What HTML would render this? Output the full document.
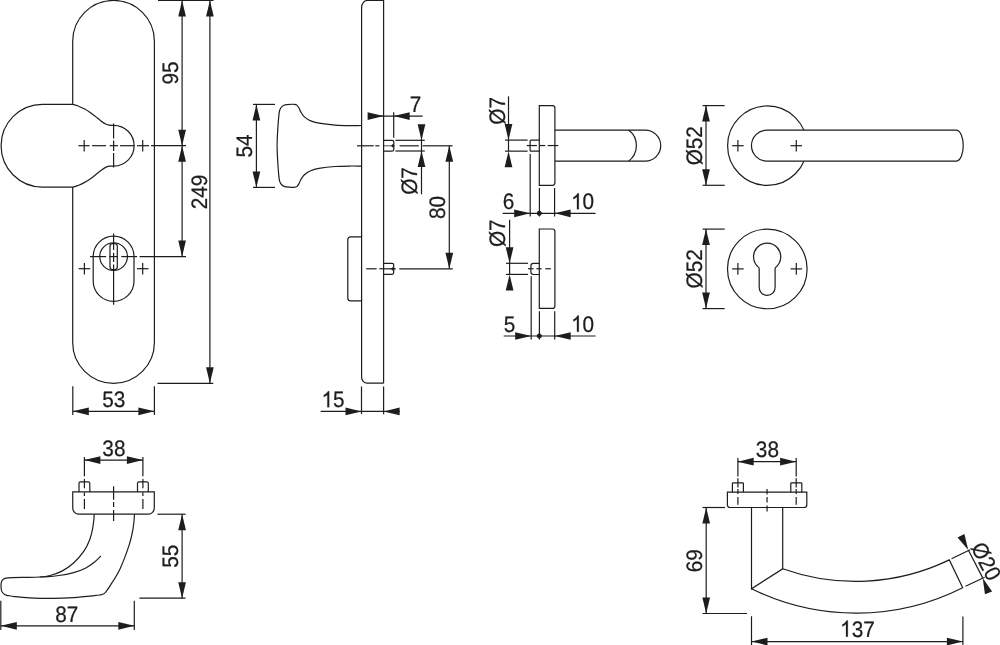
<!DOCTYPE html>
<html><head><meta charset="utf-8"><title>Drawing</title>
<style>
html,body{margin:0;padding:0;background:#fff;}
body{width:1000px;height:645px;overflow:hidden;}
svg{display:block;filter:grayscale(1);}
svg *{stroke:#1d1d1b;}
svg text{font-family:"Liberation Sans",sans-serif;fill:#1d1d1b;stroke:#1d1d1b;stroke-width:0.22px;text-rendering:geometricPrecision;}
svg polygon, svg .nf{stroke:none;}
</style></head><body>
<svg width="1000" height="645" viewBox="0 0 1000 645" fill="none" stroke-linecap="butt">
<path d="M72.7,41.30 A40.85,40.85 0 0 1 154.4,41.30 L154.4,342.45 A40.85,40.85 0 0 1 72.7,342.45 Z" fill="none" stroke-width="1.2"/>
<path d="M72.6,104.3 C74.69,104.51 76.67,105.45 78.60,106.20 C80.53,106.95 82.33,107.80 84.20,108.80 C86.07,109.80 87.95,110.93 89.80,112.20 C91.65,113.47 93.45,114.95 95.30,116.40 C97.15,117.85 99.18,119.63 100.90,120.90 C102.62,122.17 104.20,123.28 105.60,124.00 C107.00,124.72 107.95,124.98 109.30,125.20 C110.65,125.42 112.23,125.30 113.70,125.30 A20.4,20.4 0 0 1 113.7,166.10 C112.23,166.10 110.65,165.98 109.30,166.20 C107.95,166.42 107.00,166.68 105.60,167.40 C104.20,168.12 102.62,169.23 100.90,170.50 C99.18,171.77 97.15,173.55 95.30,175.00 C93.45,176.45 91.65,177.93 89.80,179.20 C87.95,180.47 86.07,181.60 84.20,182.60 C82.33,183.60 80.53,184.45 78.60,185.20 C76.67,185.95 74.69,186.89 72.60,187.10 L42.5,187.1 A41.4,41.4 0 0 1 42.5,104.3 Z" fill="#fff" stroke-width="1.2"/>
<line x1="113.6" y1="123.6" x2="113.6" y2="138.5" stroke-width="1.2"/>
<line x1="113.6" y1="140.5" x2="113.6" y2="151" stroke-width="1.2"/>
<line x1="113.6" y1="153" x2="113.6" y2="167.6" stroke-width="1.2"/>
<line x1="78.4" y1="145.7" x2="89.6" y2="145.7" stroke-width="1.2"/>
<line x1="92.1" y1="145.7" x2="106" y2="145.7" stroke-width="1.2"/>
<line x1="109.6" y1="145.7" x2="118" y2="145.7" stroke-width="1.2"/>
<line x1="120" y1="145.7" x2="134.4" y2="145.7" stroke-width="1.2"/>
<line x1="137" y1="145.7" x2="149" y2="145.7" stroke-width="1.2"/>
<line x1="151" y1="145.7" x2="186" y2="145.7" stroke-width="1.2"/>
<line x1="84.2" y1="139.9" x2="84.2" y2="151.6" stroke-width="1.2"/>
<line x1="142.7" y1="139.9" x2="142.7" y2="151.6" stroke-width="1.2"/>
<path d="M93.2,256.6 A20.4,20.4 0 0 1 134,256.6 L134,281 A20.4,20.4 0 0 1 93.2,281 Z" fill="none" stroke-width="1.2"/>
<circle cx="113.6" cy="256.6" r="13.85" fill="none" stroke-width="1.2"/>
<rect x="110" y="243.7" width="7.3" height="25.9" rx="2.5" fill="#fff" stroke-width="1.2"/>
<line x1="113.6" y1="233.6" x2="113.6" y2="250" stroke-width="1.2"/>
<line x1="113.6" y1="252.8" x2="113.6" y2="262" stroke-width="1.2"/>
<line x1="113.6" y1="264.6" x2="113.6" y2="304.8" stroke-width="1.2"/>
<line x1="90" y1="256.6" x2="106.1" y2="256.6" stroke-width="1.2"/>
<line x1="109.4" y1="256.6" x2="118" y2="256.6" stroke-width="1.2"/>
<line x1="121.3" y1="256.6" x2="137.1" y2="256.6" stroke-width="1.2"/>
<line x1="139.5" y1="256.6" x2="186" y2="256.6" stroke-width="1.2"/>
<line x1="78.60000000000001" y1="268.7" x2="90.2" y2="268.7" stroke-width="1.2"/>
<line x1="84.4" y1="262.9" x2="84.4" y2="274.5" stroke-width="1.2"/>
<line x1="136.89999999999998" y1="268.7" x2="148.5" y2="268.7" stroke-width="1.2"/>
<line x1="142.7" y1="262.9" x2="142.7" y2="274.5" stroke-width="1.2"/>
<line x1="158" y1="0.5" x2="213.5" y2="0.5" stroke-width="1.2"/>
<line x1="182.1" y1="0" x2="182.1" y2="256.6" stroke-width="1.2"/>
<polygon points="182.10,0.50 185.95,16.50 178.25,16.50" fill="#1d1d1b" stroke="none"/>
<polygon points="182.10,145.70 178.25,129.70 185.95,129.70" fill="#1d1d1b" stroke="none"/>
<polygon points="182.10,145.70 185.95,161.70 178.25,161.70" fill="#1d1d1b" stroke="none"/>
<polygon points="182.10,256.60 178.25,240.60 185.95,240.60" fill="#1d1d1b" stroke="none"/>
<line x1="209.9" y1="0" x2="209.9" y2="383.3" stroke-width="1.2"/>
<polygon points="209.90,0.50 213.75,16.50 206.05,16.50" fill="#1d1d1b" stroke="none"/>
<polygon points="209.90,383.30 206.05,367.30 213.75,367.30" fill="#1d1d1b" stroke="none"/>
<line x1="157.5" y1="383.3" x2="213.3" y2="383.3" stroke-width="1.2"/>
<text x="0" y="7.44" font-size="20.75" text-anchor="middle" transform="translate(170 73) rotate(-90) scale(1 1.08)">95</text>
<text x="0" y="7.44" font-size="20.75" text-anchor="middle" transform="translate(198.6 192) rotate(-90) scale(1 1.08)">249</text>
<line x1="72.8" y1="386.3" x2="72.8" y2="414.9" stroke-width="1.2"/>
<line x1="154.4" y1="386.3" x2="154.4" y2="414.9" stroke-width="1.2"/>
<line x1="72.8" y1="411.35" x2="154.4" y2="411.35" stroke-width="1.2"/>
<polygon points="72.80,411.35 88.80,407.50 88.80,415.20" fill="#1d1d1b" stroke="none"/>
<polygon points="154.40,411.35 138.40,415.20 138.40,407.50" fill="#1d1d1b" stroke="none"/>
<text x="0" y="7.44" font-size="20.75" text-anchor="middle" transform="translate(113.7 398.7) rotate(0) scale(1 1.08)">53</text>
<path d="M383.6,383.2 L383.6,0.5 L367.1,0.5 A5.5,7 0 0 0 361.6,7.5 L361.6,377.2 A5.5,6 0 0 0 367.1,383.2 L383.6,383.2" fill="none" stroke-width="1.2"/>
<path d="M361.50,125.50 C358.13,125.50 355.80,125.67 351.40,125.60 C347.00,125.53 340.52,125.50 335.10,125.10 C329.68,124.70 322.97,123.90 318.90,123.20 C314.83,122.50 313.12,121.95 310.70,120.90 C308.28,119.85 306.03,118.37 304.40,116.90 C302.77,115.43 301.80,113.58 300.90,112.10 C300.00,110.62 299.67,109.17 299.00,108.00 C298.33,106.83 297.67,105.72 296.90,105.10 C296.13,104.48 296.17,104.37 294.40,104.30 C292.63,104.23 288.33,104.35 286.30,104.70 C284.27,105.05 283.32,105.43 282.20,106.40 C281.08,107.37 280.22,108.33 279.60,110.50 C278.98,112.67 278.87,115.20 278.50,119.40 C278.13,123.60 277.63,131.30 277.40,135.70 C277.17,140.10 277.10,142.43 277.10,145.80 " fill="none" stroke-width="1.2"/>
<path d="M361.50,166.10 C358.13,166.10 355.80,165.93 351.40,166.00 C347.00,166.07 340.52,166.10 335.10,166.50 C329.68,166.90 322.97,167.70 318.90,168.40 C314.83,169.10 313.12,169.65 310.70,170.70 C308.28,171.75 306.03,173.23 304.40,174.70 C302.77,176.17 301.80,178.02 300.90,179.50 C300.00,180.98 299.67,182.43 299.00,183.60 C298.33,184.77 297.67,185.88 296.90,186.50 C296.13,187.12 296.17,187.23 294.40,187.30 C292.63,187.37 288.33,187.25 286.30,186.90 C284.27,186.55 283.32,186.17 282.20,185.20 C281.08,184.23 280.22,183.27 279.60,181.10 C278.98,178.93 278.87,176.40 278.50,172.20 C278.13,168.00 277.63,160.30 277.40,155.90 C277.17,151.50 277.10,149.17 277.10,145.80 " fill="none" stroke-width="1.2"/>
<path d="M361.6,236.8 L350.7,236.8 Q347.8,236.8 347.8,239.7 L347.8,297.9 Q347.8,300.8 350.7,300.8 L361.6,300.8" fill="none" stroke-width="1.2"/>
<path d="M383.6,140.4 L392.3,140.4 Q393.8,140.4 393.8,141.9 L393.8,149.6 Q393.8,151.1 392.3,151.1 L383.6,151.1" fill="none" stroke-width="1.2"/>
<path d="M383.6,263.4 L392.20000000000005,263.4 Q393.70000000000005,263.4 393.70000000000005,264.9 L393.70000000000005,272.8 Q393.70000000000005,274.3 392.20000000000005,274.3 L383.6,274.3" fill="none" stroke-width="1.2"/>
<circle cx="392.9" cy="145.8" r="1.1" fill="#1d1d1b" stroke="none"/>
<circle cx="392.8" cy="268.9" r="1.1" fill="#1d1d1b" stroke="none"/>
<line x1="357" y1="145.8" x2="373.7" y2="145.8" stroke-width="1.2"/>
<line x1="375.3" y1="145.8" x2="379.4" y2="145.8" stroke-width="1.2"/>
<line x1="383.6" y1="145.8" x2="393" y2="145.8" stroke-width="0.8"/>
<line x1="399.6" y1="145.8" x2="418.8" y2="145.8" stroke-width="1.2"/>
<line x1="422.6" y1="145.8" x2="452.6" y2="145.8" stroke-width="1.2"/>
<line x1="395.4" y1="140.3" x2="424.8" y2="140.3" stroke-width="1.2"/>
<line x1="395.4" y1="151" x2="424.8" y2="151" stroke-width="1.2"/>
<line x1="368.5" y1="116.1" x2="422.7" y2="116.1" stroke-width="1.2"/>
<polygon points="383.60,116.10 367.60,119.95 367.60,112.25" fill="#1d1d1b" stroke="none"/>
<polygon points="393.70,116.10 409.70,112.25 409.70,119.95" fill="#1d1d1b" stroke="none"/>
<line x1="393.7" y1="112.2" x2="393.7" y2="137.7" stroke-width="1.2"/>
<text x="0" y="7.44" font-size="20.75" text-anchor="middle" transform="translate(415.5 103.7) rotate(0) scale(1 1.08)">7</text>
<line x1="421.5" y1="125" x2="421.5" y2="194.3" stroke-width="1.2"/>
<polygon points="421.50,140.30 417.65,124.30 425.35,124.30" fill="#1d1d1b" stroke="none"/>
<polygon points="421.50,151.00 425.35,167.00 417.65,167.00" fill="#1d1d1b" stroke="none"/>
<text x="0" y="7.44" font-size="20.75" text-anchor="middle" transform="translate(409 181) rotate(-90) scale(1 1.08)">Ø7</text>
<line x1="449.3" y1="145.8" x2="449.3" y2="268.8" stroke-width="1.2"/>
<polygon points="449.30,145.80 453.15,161.80 445.45,161.80" fill="#1d1d1b" stroke="none"/>
<polygon points="449.30,268.80 445.45,252.80 453.15,252.80" fill="#1d1d1b" stroke="none"/>
<text x="0" y="7.44" font-size="20.75" text-anchor="middle" transform="translate(437 207.5) rotate(-90) scale(1 1.08)">80</text>
<line x1="366.2" y1="268.8" x2="376.6" y2="268.8" stroke-width="1.2"/>
<line x1="379.3" y1="268.8" x2="395.8" y2="268.8" stroke-width="1.2"/>
<line x1="399.3" y1="268.8" x2="452.8" y2="268.8" stroke-width="1.2"/>
<line x1="361.5" y1="386.5" x2="361.5" y2="414.2" stroke-width="1.2"/>
<line x1="383.6" y1="386.5" x2="383.6" y2="414.2" stroke-width="1.2"/>
<line x1="320.7" y1="411.4" x2="399.8" y2="411.4" stroke-width="1.2"/>
<polygon points="361.50,411.40 345.50,415.25 345.50,407.55" fill="#1d1d1b" stroke="none"/>
<polygon points="383.60,411.40 399.60,407.55 399.60,415.25" fill="#1d1d1b" stroke="none"/>
<g transform="translate(333.0 399.2) rotate(0) scale(1 1.08)"><path d="M763,0 H583 V-1147 Q518,-1085 412.5,-1023 Q307,-961 223,-930 V-1104 Q374,-1175 487,-1276 Q600,-1377 647,-1472 H763 Z" transform="translate(-11.54 7.44) scale(0.01013)" fill="#1d1d1b" style="stroke:#1d1d1b;stroke-width:21.7"/><text x="0.00" y="7.44" font-size="20.75">5</text></g>
<line x1="253" y1="104.4" x2="275" y2="104.4" stroke-width="1.2"/>
<line x1="253" y1="187.4" x2="275" y2="187.4" stroke-width="1.2"/>
<line x1="256.4" y1="104.4" x2="256.4" y2="187.4" stroke-width="1.2"/>
<polygon points="256.40,104.40 260.25,120.40 252.55,120.40" fill="#1d1d1b" stroke="none"/>
<polygon points="256.40,187.40 252.55,171.40 260.25,171.40" fill="#1d1d1b" stroke="none"/>
<text x="0" y="7.44" font-size="20.75" text-anchor="middle" transform="translate(244.3 146) rotate(-90) scale(1 1.08)">54</text>
<path d="M539.3,105.6 L552.4,105.6 Q554.9,105.6 554.9,108.1 L554.9,182.8 Q554.9,185.3 552.4,185.3 L539.3,185.3 Z" fill="none" stroke-width="1.2"/>
<path d="M554.9,130.05 L645.2,130.05 A15.55,15.55 0 0 1 645.2,161.15 L554.9,161.15" fill="none" stroke-width="1.2"/>
<path d="M628.6,130.05 A19.4,19.4 0 0 1 628.6,161.15" fill="none" stroke-width="1.2"/>
<path d="M539.3,140.1 L531,140.1 Q530.1,140.1 530.1,141 L530.1,150.3 Q530.1,151.2 531,151.2 L539.3,151.2" fill="none" stroke-width="1.2"/>
<line x1="526.7" y1="145.55" x2="536.9" y2="145.55" stroke-width="1.2"/>
<line x1="539.7" y1="145.55" x2="545.3" y2="145.55" stroke-width="1.2"/>
<line x1="547.6" y1="145.55" x2="558.3" y2="145.55" stroke-width="1.2"/>
<line x1="505" y1="140.1" x2="527.6" y2="140.1" stroke-width="1.2"/>
<line x1="505" y1="151.15" x2="527.6" y2="151.15" stroke-width="1.2"/>
<line x1="508.5" y1="96.3" x2="508.5" y2="151" stroke-width="1.2"/>
<polygon points="508.50,140.10 504.65,124.10 512.35,124.10" fill="#1d1d1b" stroke="none"/>
<polygon points="508.50,151.15 512.35,167.15 504.65,167.15" fill="#1d1d1b" stroke="none"/>
<text x="0" y="7.44" font-size="20.75" text-anchor="middle" transform="translate(497.4 110.8) rotate(-90) scale(1 1.08)">Ø7</text>
<line x1="502.6" y1="213.3" x2="595.6" y2="213.3" stroke-width="1.2"/>
<line x1="530.2" y1="153.9" x2="530.2" y2="216.6" stroke-width="1.2"/>
<line x1="539.4" y1="188" x2="539.4" y2="216.6" stroke-width="1.2"/>
<line x1="554.6" y1="188" x2="554.6" y2="216.6" stroke-width="1.2"/>
<polygon points="530.20,213.30 514.20,217.15 514.20,209.45" fill="#1d1d1b" stroke="none"/>
<polygon points="554.60,213.30 570.60,209.45 570.60,217.15" fill="#1d1d1b" stroke="none"/>
<circle cx="539.3" cy="213.3" r="2.1" fill="#1d1d1b" stroke="none"/>
<text x="0" y="7.44" font-size="20.75" text-anchor="middle" transform="translate(508.4 201.3) rotate(0) scale(1 1.08)">6</text>
<g transform="translate(582.6 201.3) rotate(0) scale(1 1.08)"><path d="M763,0 H583 V-1147 Q518,-1085 412.5,-1023 Q307,-961 223,-930 V-1104 Q374,-1175 487,-1276 Q600,-1377 647,-1472 H763 Z" transform="translate(-11.54 7.44) scale(0.01013)" fill="#1d1d1b" style="stroke:#1d1d1b;stroke-width:21.7"/><text x="0.00" y="7.44" font-size="20.75">0</text></g>
<path d="M539.3,229 L552.4,229 Q554.9,229 554.9,231.5 L554.9,305.9 Q554.9,308.4 552.4,308.4 L539.3,308.4 Z" fill="none" stroke-width="1.2"/>
<path d="M539.3,263.3 L533.3,263.3 Q530.9,263.3 530.9,265.7 L530.9,272.1 Q530.9,274.5 533.3,274.5 L539.3,274.5" fill="none" stroke-width="1.2"/>
<line x1="528" y1="268.75" x2="533.6" y2="268.75" stroke-width="1.2"/>
<line x1="536.4" y1="268.75" x2="541.6" y2="268.75" stroke-width="1.2"/>
<line x1="545.3" y1="268.75" x2="550.9" y2="268.75" stroke-width="1.2"/>
<line x1="506" y1="263.3" x2="528" y2="263.3" stroke-width="1.2"/>
<line x1="506" y1="274.4" x2="528" y2="274.4" stroke-width="1.2"/>
<line x1="509.6" y1="219.8" x2="509.6" y2="274.4" stroke-width="1.2"/>
<polygon points="509.60,263.30 505.75,247.30 513.45,247.30" fill="#1d1d1b" stroke="none"/>
<polygon points="509.60,274.40 513.45,290.40 505.75,290.40" fill="#1d1d1b" stroke="none"/>
<text x="0" y="7.44" font-size="20.75" text-anchor="middle" transform="translate(497.4 233.2) rotate(-90) scale(1 1.08)">Ø7</text>
<line x1="503.7" y1="336" x2="595.6" y2="336" stroke-width="1.2"/>
<line x1="531.2" y1="276.3" x2="531.2" y2="339.4" stroke-width="1.2"/>
<line x1="539.4" y1="311.2" x2="539.4" y2="339.4" stroke-width="1.2"/>
<line x1="554.7" y1="311.2" x2="554.7" y2="339.4" stroke-width="1.2"/>
<polygon points="531.20,336.00 515.20,339.85 515.20,332.15" fill="#1d1d1b" stroke="none"/>
<polygon points="554.70,336.00 570.70,332.15 570.70,339.85" fill="#1d1d1b" stroke="none"/>
<circle cx="539.3" cy="336" r="2.1" fill="#1d1d1b" stroke="none"/>
<text x="0" y="7.44" font-size="20.75" text-anchor="middle" transform="translate(509.5 323.6) rotate(0) scale(1 1.08)">5</text>
<g transform="translate(582.6 323.6) rotate(0) scale(1 1.08)"><path d="M763,0 H583 V-1147 Q518,-1085 412.5,-1023 Q307,-961 223,-930 V-1104 Q374,-1175 487,-1276 Q600,-1377 647,-1472 H763 Z" transform="translate(-11.54 7.44) scale(0.01013)" fill="#1d1d1b" style="stroke:#1d1d1b;stroke-width:21.7"/><text x="0.00" y="7.44" font-size="20.75">0</text></g>
<circle cx="767.3" cy="145.65" r="39.7" fill="none" stroke-width="1.2"/>
<path d="M955.8,130.05 L767,130.05 A15.55,15.55 0 0 0 767,161.15 L955.8,161.15 C965.7,161.15 965.7,130.05 955.8,130.05 Z" fill="#fff" stroke-width="1.2"/>
<line x1="732.1" y1="145.7" x2="743.6999999999999" y2="145.7" stroke-width="1.2"/>
<line x1="737.9" y1="139.89999999999998" x2="737.9" y2="151.5" stroke-width="1.2"/>
<line x1="790.5" y1="145.7" x2="802.0999999999999" y2="145.7" stroke-width="1.2"/>
<line x1="796.3" y1="139.89999999999998" x2="796.3" y2="151.5" stroke-width="1.2"/>
<line x1="702.6" y1="105.6" x2="724.7" y2="105.6" stroke-width="1.2"/>
<line x1="702.6" y1="185.3" x2="724.7" y2="185.3" stroke-width="1.2"/>
<line x1="706" y1="105.6" x2="706" y2="185.3" stroke-width="1.2"/>
<polygon points="706.00,105.60 709.85,121.60 702.15,121.60" fill="#1d1d1b" stroke="none"/>
<polygon points="706.00,185.30 702.15,169.30 709.85,169.30" fill="#1d1d1b" stroke="none"/>
<text x="0" y="7.44" font-size="20.75" text-anchor="middle" transform="translate(694.4 145.7) rotate(-90) scale(1 1.08)">Ø52</text>
<circle cx="767.3" cy="268.95" r="39.8" fill="none" stroke-width="1.2"/>
<path d="M759.2,268.53 A1.5,1.5 0 0 0 758.64,267.36 A13.6,13.6 0 1 1 775.66,267.36 A1.5,1.5 0 0 0 775.1,268.53 L775.1,287.45 A7.95,7.95 0 0 1 759.2,287.45 Z" fill="none" stroke-width="1.2"/>
<line x1="732.1" y1="268.9" x2="743.6999999999999" y2="268.9" stroke-width="1.2"/>
<line x1="737.9" y1="263.09999999999997" x2="737.9" y2="274.7" stroke-width="1.2"/>
<line x1="790.5" y1="268.9" x2="802.0999999999999" y2="268.9" stroke-width="1.2"/>
<line x1="796.3" y1="263.09999999999997" x2="796.3" y2="274.7" stroke-width="1.2"/>
<line x1="702.6" y1="229.1" x2="724.7" y2="229.1" stroke-width="1.2"/>
<line x1="702.6" y1="308.6" x2="724.7" y2="308.6" stroke-width="1.2"/>
<line x1="706" y1="229.1" x2="706" y2="308.6" stroke-width="1.2"/>
<polygon points="706.00,229.10 709.85,245.10 702.15,245.10" fill="#1d1d1b" stroke="none"/>
<polygon points="706.00,308.60 702.15,292.60 709.85,292.60" fill="#1d1d1b" stroke="none"/>
<text x="0" y="7.44" font-size="20.75" text-anchor="middle" transform="translate(694.4 268.8) rotate(-90) scale(1 1.08)">Ø52</text>
<path d="M94.20,514.30 C94.20,518.79 93.53,523.50 92.80,527.70 C92.07,531.90 91.28,535.58 89.80,539.50 C88.32,543.42 86.60,547.28 83.90,551.20 C81.20,555.12 77.27,559.68 73.60,563.00 C69.93,566.32 65.82,569.02 61.90,571.10 C57.98,573.18 53.78,574.52 50.10,575.50 C46.42,576.48 44.47,576.68 39.80,577.00 C35.13,577.32 27.40,577.27 22.10,577.40 C16.80,577.53 12.70,577.71 8.00,577.80 Q1.2,578.2 1,584 L1.1,588.5 Q1.6,594.2 7,595.3 C9.57,595.73 10.95,596.17 14.70,596.60 C18.45,597.03 23.12,597.60 29.50,597.90 C35.88,598.20 45.65,598.45 53.00,598.40 C60.35,598.35 66.72,598.05 73.60,597.60 C80.48,597.15 89.63,596.18 94.30,595.70 C98.97,595.22 99.17,595.03 101.60,594.70 Q104.6,594 105.8,592 C107.37,589.70 108.13,588.95 110.50,585.10 C112.87,581.25 116.88,575.60 120.00,568.90 C123.12,562.20 127.03,551.52 129.20,544.90 C131.37,538.28 132.12,534.30 133.00,529.20 C133.88,524.10 134.25,519.29 134.50,514.30 " fill="none" stroke-width="1.2"/>
<path d="M39.80,577.00 C46.19,577.00 53.27,576.23 58.90,575.50 C64.53,574.77 69.18,573.82 73.60,572.60 C78.02,571.38 81.95,569.92 85.40,568.20 C88.85,566.48 91.72,564.33 94.30,562.30 C96.88,560.27 98.70,558.10 100.90,556.00 " fill="none" stroke-width="1.2"/>
<path d="M72.75,491.9 L154.3,491.9 L154.3,508.1 A6,6 0 0 1 148.3,514.1 L78.75,514.1 A6,6 0 0 1 72.75,508.1 Z" fill="none" stroke-width="1.2"/>
<path d="M79,491.9 L79,483.3 Q79,481.8 80.5,481.8 L88.3,481.8 Q89.8,481.8 89.8,483.3 L89.8,491.9" fill="none" stroke-width="1.2"/>
<path d="M137.5,491.9 L137.5,483.3 Q137.5,481.8 139.0,481.8 L146.8,481.8 Q148.3,481.8 148.3,483.3 L148.3,491.9" fill="none" stroke-width="1.2"/>
<line x1="84.4" y1="456.9" x2="84.4" y2="476.2" stroke-width="1.2"/>
<line x1="84.4" y1="478.9" x2="84.4" y2="488.2" stroke-width="1.2"/>
<line x1="84.4" y1="492.4" x2="84.4" y2="495.9" stroke-width="1.2"/>
<line x1="84.4" y1="499" x2="84.4" y2="509.1" stroke-width="1.2"/>
<line x1="142.9" y1="456.9" x2="142.9" y2="476.2" stroke-width="1.2"/>
<line x1="142.9" y1="478.9" x2="142.9" y2="488.2" stroke-width="1.2"/>
<line x1="142.9" y1="492.4" x2="142.9" y2="495.9" stroke-width="1.2"/>
<line x1="142.9" y1="499" x2="142.9" y2="509.1" stroke-width="1.2"/>
<line x1="113.6" y1="486.2" x2="113.6" y2="499.8" stroke-width="1.2"/>
<line x1="113.6" y1="502" x2="113.6" y2="507" stroke-width="1.2"/>
<line x1="113.6" y1="509.9" x2="113.6" y2="521" stroke-width="1.2"/>
<line x1="84.4" y1="460.1" x2="142.9" y2="460.1" stroke-width="1.2"/>
<polygon points="84.40,460.10 100.40,456.25 100.40,463.95" fill="#1d1d1b" stroke="none"/>
<polygon points="142.90,460.10 126.90,463.95 126.90,456.25" fill="#1d1d1b" stroke="none"/>
<text x="0" y="7.44" font-size="20.75" text-anchor="middle" transform="translate(113.9 448.3) rotate(0) scale(1 1.08)">38</text>
<line x1="157.4" y1="514.2" x2="185.6" y2="514.2" stroke-width="1.2"/>
<line x1="139.4" y1="598.2" x2="185.6" y2="598.2" stroke-width="1.2"/>
<line x1="182.1" y1="514.2" x2="182.1" y2="598.2" stroke-width="1.2"/>
<polygon points="182.10,514.20 185.95,530.20 178.25,530.20" fill="#1d1d1b" stroke="none"/>
<polygon points="182.10,598.20 178.25,582.20 185.95,582.20" fill="#1d1d1b" stroke="none"/>
<text x="0" y="7.44" font-size="20.75" text-anchor="middle" transform="translate(169.9 556.2) rotate(-90) scale(1 1.08)">55</text>
<line x1="0.8" y1="600.7" x2="0.8" y2="629.9" stroke-width="1.2"/>
<line x1="134.3" y1="600.7" x2="134.3" y2="629.9" stroke-width="1.2"/>
<line x1="0.8" y1="625.8" x2="134.3" y2="625.8" stroke-width="1.2"/>
<polygon points="0.80,625.80 16.80,621.95 16.80,629.65" fill="#1d1d1b" stroke="none"/>
<polygon points="134.30,625.80 118.30,629.65 118.30,621.95" fill="#1d1d1b" stroke="none"/>
<text x="0" y="7.44" font-size="20.75" text-anchor="middle" transform="translate(66.8 613.5) rotate(0) scale(1 1.08)">87</text>
<path d="M751.5,507.6 L751.5,588.8 L782.7,568.8 L782.7,507.6" fill="none" stroke-width="1.2"/>
<path d="M782.7,568.8 A215.5,215.5 0 0 0 949.3,559.9 L962.7,587.7 A236.8,236.8 0 0 1 751.5,588.8" fill="none" stroke-width="1.2"/>
<path d="M727.4,492.2 L806.8,492.2 L806.8,504.7 A2.8,2.8 0 0 1 804,507.5 L730.2,507.5 A2.8,2.8 0 0 1 727.4,504.7 Z" fill="none" stroke-width="1.2"/>
<path d="M732.4,492.2 L732.4,483.59999999999997 Q732.4,482.9 733.1,482.9 L742.6999999999999,482.9 Q743.4,482.9 743.4,483.59999999999997 L743.4,492.2" fill="none" stroke-width="1.2"/>
<path d="M790.8,492.2 L790.8,483.59999999999997 Q790.8,482.9 791.5,482.9 L801.0999999999999,482.9 Q801.8,482.9 801.8,483.59999999999997 L801.8,492.2" fill="none" stroke-width="1.2"/>
<line x1="737.9" y1="458" x2="737.9" y2="476.6" stroke-width="1.2"/>
<line x1="737.9" y1="478.3" x2="737.9" y2="487.4" stroke-width="1.2"/>
<line x1="737.9" y1="489" x2="737.9" y2="494" stroke-width="1.2"/>
<line x1="737.9" y1="497.1" x2="737.9" y2="504.8" stroke-width="1.2"/>
<line x1="796.2" y1="458" x2="796.2" y2="476.6" stroke-width="1.2"/>
<line x1="796.2" y1="478.3" x2="796.2" y2="487.4" stroke-width="1.2"/>
<line x1="796.2" y1="489" x2="796.2" y2="494" stroke-width="1.2"/>
<line x1="796.2" y1="497.1" x2="796.2" y2="504.8" stroke-width="1.2"/>
<line x1="767.05" y1="489" x2="767.05" y2="494.4" stroke-width="1.2"/>
<line x1="767.05" y1="497.1" x2="767.05" y2="502.5" stroke-width="1.2"/>
<line x1="767.05" y1="505.6" x2="767.05" y2="511.4" stroke-width="1.2"/>
<line x1="737.7" y1="461.7" x2="796.1" y2="461.7" stroke-width="1.2"/>
<polygon points="737.70,461.70 753.70,457.85 753.70,465.55" fill="#1d1d1b" stroke="none"/>
<polygon points="796.10,461.70 780.10,465.55 780.10,457.85" fill="#1d1d1b" stroke="none"/>
<text x="0" y="7.44" font-size="20.75" text-anchor="middle" transform="translate(767.4 449.3) rotate(0) scale(1 1.08)">38</text>
<line x1="702.5" y1="507.5" x2="725" y2="507.5" stroke-width="1.2"/>
<line x1="702.5" y1="613.5" x2="747" y2="613.5" stroke-width="1.2"/>
<line x1="706.2" y1="507.5" x2="706.2" y2="613.5" stroke-width="1.2"/>
<polygon points="706.20,507.50 710.05,523.50 702.35,523.50" fill="#1d1d1b" stroke="none"/>
<polygon points="706.20,613.50 702.35,597.50 710.05,597.50" fill="#1d1d1b" stroke="none"/>
<text x="0" y="7.44" font-size="20.75" text-anchor="middle" transform="translate(694.4 560.7) rotate(-90) scale(1 1.08)">69</text>
<line x1="751.5" y1="616.2" x2="751.5" y2="645" stroke-width="1.2"/>
<line x1="962.9" y1="616.4" x2="962.9" y2="645" stroke-width="1.2"/>
<line x1="751.5" y1="641.6" x2="962.9" y2="641.6" stroke-width="1.2"/>
<polygon points="751.50,641.60 767.50,637.75 767.50,645.45" fill="#1d1d1b" stroke="none"/>
<polygon points="962.90,641.60 946.90,645.45 946.90,637.75" fill="#1d1d1b" stroke="none"/>
<g transform="translate(857.4 628.6) rotate(0) scale(1 1.08)"><path d="M763,0 H583 V-1147 Q518,-1085 412.5,-1023 Q307,-961 223,-930 V-1104 Q374,-1175 487,-1276 Q600,-1377 647,-1472 H763 Z" transform="translate(-17.31 7.44) scale(0.01013)" fill="#1d1d1b" style="stroke:#1d1d1b;stroke-width:21.7"/><text x="-5.77" y="7.44" font-size="20.75">3</text><text x="5.77" y="7.44" font-size="20.75">7</text></g>
<line x1="951.5" y1="558.7" x2="970.1" y2="549.7" stroke-width="1.2"/>
<line x1="965.5" y1="586.3" x2="984.7" y2="577.3" stroke-width="1.2"/>
<line x1="968.3" y1="550.0" x2="982.7" y2="577.9" stroke-width="1.2"/>
<polygon points="968.30,550.00 957.54,537.55 964.38,534.02" fill="#1d1d1b" stroke="none"/>
<polygon points="982.70,577.90 992.12,591.39 984.95,594.20" fill="#1d1d1b" stroke="none"/>
<text x="0" y="7.44" font-size="20.75" text-anchor="middle" transform="translate(986.6 561.1) rotate(63) scale(1 1.08)">Ø20</text>
</svg>
</body></html>
